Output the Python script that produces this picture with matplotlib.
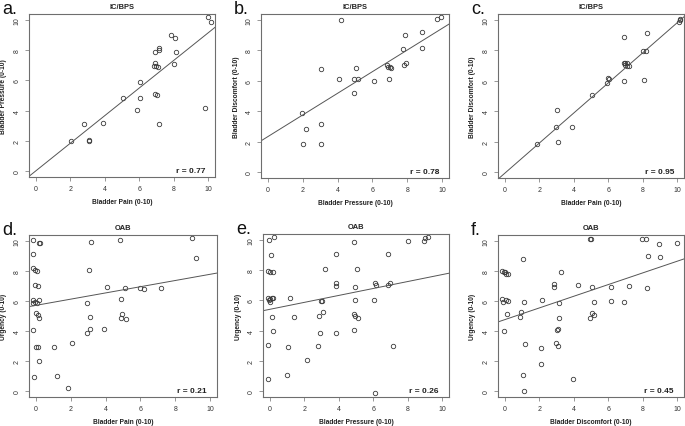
import matplotlib
matplotlib.use("Agg")
import matplotlib.pyplot as plt
import numpy as np

plt.rcParams['font.family'] = ['Liberation Sans', 'DejaVu Sans']

# ---------------- data ----------------
# Panel a: Bladder Pain vs Bladder Pressure (IC/BPS)
a_x = [2.06, 2.79, 3.06, 3.08, 3.88, 5.08, 6.06, 6.06, 5.85, 6.9, 7.04, 7.17, 6.9, 6.9, 6.83, 6.96,
       7.08, 7.15, 7.17, 7.87, 8.08, 8.15, 8.0, 9.81, 10.0, 10.17]
a_y = [2.0, 3.09, 2.0, 2.04, 3.2, 4.82, 4.82, 5.92, 4.06, 5.13, 5.04, 3.09, 7.85, 7.15, 6.93, 6.93,
       6.86, 8.03, 8.18, 9.01, 8.84, 7.9, 7.08, 4.19, 10.18, 9.89]
a_fit = (0.01, 0.914)
a_r = "r = 0.77"

# Panel b: Bladder Pressure vs Bladder Discomfort (IC/BPS)
b_x = [1.93, 2.16, 2.04, 3.03, 3.05, 3.02, 4.06, 4.18, 4.92, 4.94, 5.04, 5.19, 6.09, 6.97, 6.83,
       6.91, 7.0, 7.04, 7.77, 7.88, 7.84, 7.92, 8.87, 8.87, 9.73, 9.96]
b_y = [3.88, 2.83, 1.84, 1.84, 3.14, 6.8, 6.1, 10.0, 6.1, 5.18, 6.84, 6.1, 5.96, 6.1, 7.02,
       6.93, 6.93, 6.86, 8.11, 9.01, 7.04, 7.19, 9.19, 8.14, 10.09, 10.18]
b_fit = (2.33, 0.712)
b_r = "r = 0.78"

# Panel c: Bladder Pain vs Bladder Discomfort (IC/BPS)
c_x = [1.85, 2.96, 3.04, 3.07, 3.91, 5.04, 5.9, 5.99, 6.05, 6.93, 6.93, 6.89, 6.98, 7.08, 6.95,
       7.08, 7.2, 8.02, 8.17, 8.05, 8.25, 10.12, 10.19, 10.16]
c_y = [1.86, 2.96, 4.06, 2.0, 2.96, 5.07, 5.88, 6.16, 6.1, 8.86, 6.0, 7.2, 7.15, 7.18, 7.04,
       6.97, 6.97, 7.94, 7.94, 6.07, 9.14, 9.85, 10.09, 9.98]
c_fit = (-0.08, 0.99)
c_r = "r = 0.95"

# Panel d: Bladder Pain vs Urgency (OAB)
d_x = [-0.15, 0.17, 0.21, -0.17, -0.19, -0.08, 0.04, -0.04, 0.12, -0.15, -0.06, 0.04, 0.19, -0.19,
       0.0, 0.12, 0.15, -0.19, 0.0, 0.12, 0.19, -0.1, 1.06, 1.19, 1.85, 2.08, 2.92, 3.08, 3.12,
       2.94, 3.04, 3.15, 3.9, 4.1, 4.83, 4.9, 4.94, 4.9, 5.17, 5.12, 5.96, 6.19, 7.17, 8.96, 9.19]
d_y = [10.07, 9.89, 9.89, 9.16, 8.17, 8.08, 7.97, 7.09, 7.0, 6.04, 5.93, 5.88, 6.06, 5.88,
       5.18, 5.04, 4.89, 4.05, 2.91, 2.95, 1.98, 0.95, 2.93, 0.99, 0.2, 3.19, 3.88, 4.15, 4.93,
       5.84, 8.08, 9.91, 4.16, 6.96, 10.07, 6.15, 5.11, 4.89, 4.82, 6.89, 6.89, 6.81, 6.89, 10.18, 8.9]
d_fit = (5.71, 0.207)
d_r = "r = 0.21"

# Panel e: Bladder Pressure vs Urgency (OAB)
e_x = [-0.04, 0.21, 0.06, -0.1, 0.02, 0.17, -0.13, 0.0, 0.1, 0.17, -0.06, 0.02, 0.12, 0.17, -0.13,
       -0.1, 0.98, 1.08, 1.19, 1.41, 2.16, 2.81, 2.87, 2.91, 2.95, 3.03, 3.08, 3.18, 3.83, 3.83,
       3.83, 3.83, 4.91, 4.93, 4.93, 4.87, 4.95, 5.11, 4.91, 5.03, 6.05, 6.09, 6.13, 6.19, 6.88,
       6.84, 6.98, 7.15, 8.03, 8.92, 9.0, 9.17]
e_y = [9.98, 10.18, 9.03, 7.97, 7.88, 7.88, 6.18, 6.11, 6.16, 6.16, 6.03, 5.89, 4.92, 4.0, 3.02,
       0.82, 1.08, 2.89, 6.16, 4.92, 2.05, 3.0, 4.94, 3.82, 5.94, 5.98, 5.23, 8.08, 9.07, 7.13,
       6.95, 3.84, 9.87, 6.91, 6.03, 5.1, 4.94, 4.83, 4.06, 8.1, 6.03, -0.13, 7.13, 7.04, 9.07,
       7.04, 7.17, 3.0, 9.93, 9.93, 10.13, 10.22]
e_fit = (5.41, 0.23)
e_r = "r = 0.26"

# Panel f: Bladder Discomfort vs Urgency (OAB)
f_x = [-0.19, -0.08, 0.0, 0.08, 0.16, -0.19, -0.12, 0.08, 0.16, 0.12, -0.04, 0.86, 0.93, 1.05,
       1.05, 1.09, 1.11, 1.17, 2.14, 2.1, 2.08, 2.84, 2.86, 2.94, 3.0, 3.09, 3.15, 3.13, 3.11,
       3.23, 3.95, 4.26, 4.94, 5.0, 4.96, 5.06, 5.04, 5.18, 5.18, 6.17, 6.17, 6.91, 7.18, 7.98,
       8.17, 8.31, 8.25, 8.95, 9.03, 10.0]
f_y = [7.99, 7.94, 7.92, 7.83, 7.81, 6.13, 5.95, 6.06, 5.97, 5.14, 4.0, 4.92, 5.25, 8.82,
       1.05, 0.02, 5.93, 3.13, 6.06, 2.87, 1.82, 7.16, 6.96, 3.22, 4.05, 4.11, 5.86, 4.9, 2.98,
       7.92, 0.81, 7.07, 10.13, 10.13, 4.86, 6.91, 5.21, 5.08, 5.95, 6.91, 6.02, 5.95, 6.98, 10.11,
       10.15, 8.97, 6.87, 9.82, 8.91, 9.85]
f_fit = (4.76, 0.389)
f_r = "r = 0.45"

titles = ["IC/BPS", "IC/BPS", "IC/BPS", "OAB", "OAB", "OAB"]
letters = ["a.", "b.", "c.", "d.", "e.", "f."]
xlabels = ["Bladder Pain (0-10)", "Bladder Pressure (0-10)", "Bladder Pain (0-10)",
           "Bladder Pain (0-10)", "Bladder Pressure (0-10)", "Bladder Discomfort (0-10)"]
ylabels = ["Bladder Pressure (0-10)", "Bladder Discomfort (0-10)", "Bladder Discomfort (0-10)",
           "Urgency (0-10)", "Urgency (0-10)", "Urgency (0-10)"]
ticks = [0, 2, 4, 6, 8, 10]

panels = [(a_x, a_y, a_fit, a_r), (b_x, b_y, b_fit, b_r), (c_x, c_y, c_fit, c_r),
          (d_x, d_y, d_fit, d_r), (e_x, e_y, e_fit, e_r), (f_x, f_y, f_fit, f_r)]

# ---------------- layout (pixels: left, right, top, bottom) ----------------
W, H = 685, 427
boxes = [(29, 215, 15, 178), (261, 449, 15, 179), (498, 684, 15, 179),
         (29, 217, 236, 398), (263, 449, 235, 398), (498, 684, 236, 398)]

fig = plt.figure(figsize=(W / 100, H / 100), dpi=100)
fig.patch.set_facecolor("white")

grey = "#6e6e6e"
for i, ((x, y, fit, rtxt), (l, r, t, b)) in enumerate(zip(panels, boxes)):
    wpx, hpx = r - l, b - t
    ax = fig.add_axes([l / W, 1 - b / H, wpx / W, hpx / H])
    ax.set_xlim(-0.4, 10.4)
    ax.set_ylim(-0.4, 10.4)
    ax.plot(x, y, linestyle="none", marker="o", markersize=3.2, markerfacecolor="none",
            markeredgecolor="#3a3a3a", markeredgewidth=0.6)
    xx = np.array([-0.4, 10.4])
    ax.plot(xx, fit[0] + fit[1] * xx, color="#555555", linewidth=0.7)
    ax.set_xticks(ticks)
    ax.set_yticks(ticks)
    ax.tick_params(axis="both", direction="out", length=3, width=0.5, colors=grey,
                   labelsize=5, labelcolor="#333333", pad=3)
    for lab in ax.get_yticklabels():
        lab.set_rotation(90)
        lab.set_va("center")
    for sp in ax.spines.values():
        sp.set_color(grey)
        sp.set_linewidth(0.8)
    ax.set_xlabel(xlabels[i], fontsize=4.8, fontweight="bold", color="#222222", va="center")
    ax.set_ylabel(ylabels[i], fontsize=4.8, fontweight="bold", color="#222222", va="center")
    ax.xaxis.set_label_coords(0.5, -24.5 / hpx)
    ax.yaxis.set_label_coords(-25 / wpx, 0.5)
    ax.set_title(titles[i], fontsize=5.4, fontweight="bold", color="#222222", pad=4)
    ax.text(1 - 10 / wpx, 6.5 / hpx, rtxt, transform=ax.transAxes, ha="right", va="center",
            fontsize=6, fontweight="bold", color="#222222")
    fig.text((l - 27) / W, 1 - (t - 14) / H, letters[i], fontsize=13, ha="left", va="top",
             color="#111111")

fig.savefig("out.png", dpi=100, facecolor="white")
